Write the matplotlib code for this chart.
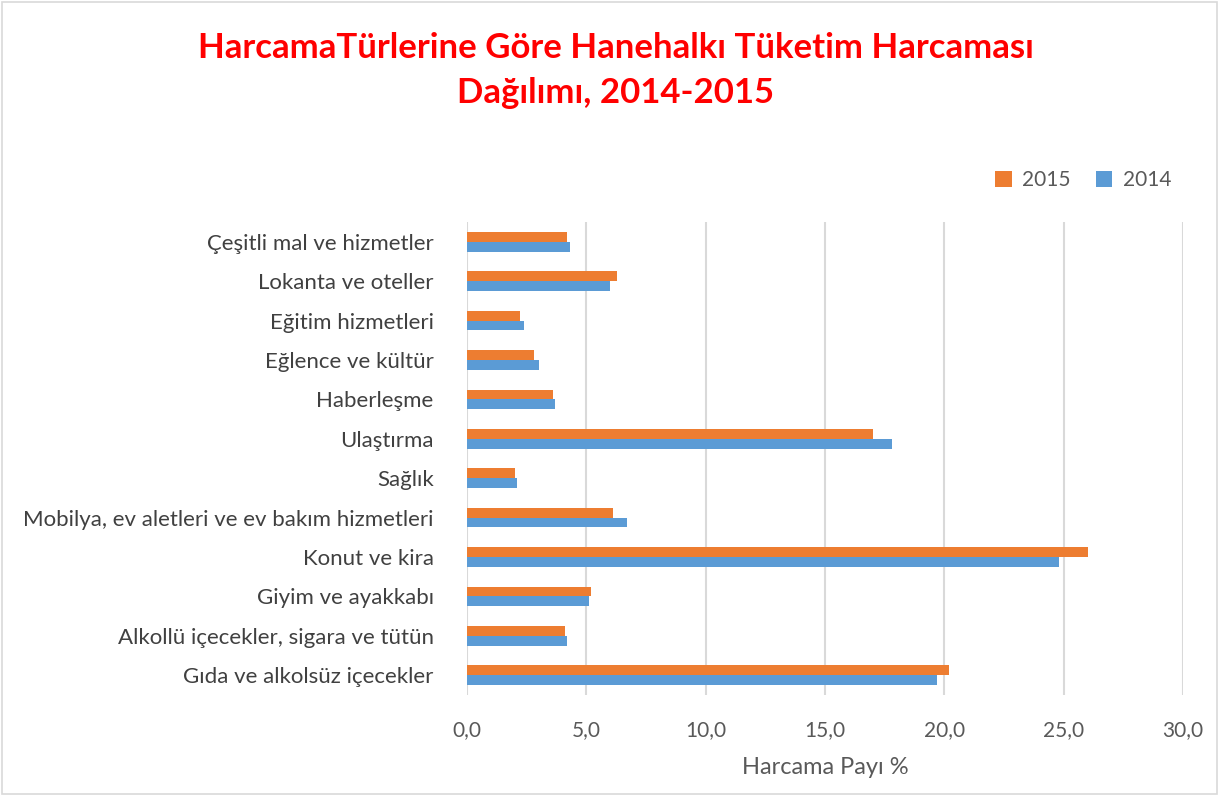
import numpy as np
import matplotlib.pyplot as plt
from matplotlib.patches import Rectangle

categories = [
    "Gıda ve alkolsüz içecekler",
    "Alkollü içecekler, sigara ve tütün",
    "Giyim ve ayakkabı",
    "Konut ve kira",
    "Mobilya, ev aletleri ve ev bakım hizmetleri",
    "Sağlık",
    "Ulaştırma",
    "Haberleşme",
    "Eğlence ve kültür",
    "Eğitim hizmetleri",
    "Lokanta ve oteller",
    "Çeşitli mal ve hizmetler",
]
values_2015 = [20.2, 4.1, 5.2, 26.0, 6.1, 2.0, 17.0, 3.6, 2.8, 2.2, 6.3, 4.2]
values_2014 = [19.7, 4.2, 5.1, 24.8, 6.7, 2.1, 17.8, 3.7, 3.0, 2.4, 6.0, 4.3]
xticks = [0, 5, 10, 15, 20, 25, 30]

plt.rcParams['font.family'] = ['Lato', 'DejaVu Sans']

fig = plt.figure(figsize=(12.19, 7.96), dpi=100)
ax = fig.add_axes([467 / 1219, 1 - 695 / 796, (1183 - 467) / 1219, (695 - 222) / 796])

y = np.arange(len(categories))
h = 0.25
ax.barh(y + h / 2, values_2015, height=h, color='#ED7D31', label='2015', zorder=3)
ax.barh(y - h / 2, values_2014, height=h, color='#5B9BD5', label='2014', zorder=3)

ax.set_xlim(0, 30)
ax.set_ylim(-0.5, len(categories) - 0.5)
ax.set_xticks(xticks)
ax.set_xticklabels([f"{v:.1f}".replace('.', ',') for v in xticks], fontsize=15, color='#595959')
ax.set_yticks(y)
ax.set_yticklabels(categories, fontsize=16, color='#404040')
ax.tick_params(axis='both', length=0)
ax.tick_params(axis='y', pad=24)
ax.tick_params(axis='x', pad=18)
ax.grid(axis='x', color='#D9D9D9', linewidth=1.5, zorder=0)
for s in ax.spines.values():
    s.set_visible(False)

ax.set_xlabel("Harcama Payı %", fontsize=17, color='#595959', labelpad=12)

fig.text(0.505, 0.96, "HarcamaTürlerine Göre Hanehalkı Tüketim Harcaması\nDağılımı, 2014-2015",
         ha='center', va='top', fontsize=25, fontweight='bold', color='#FF0000', linespacing=1.5)

leg = ax.legend(loc='lower right', bbox_to_anchor=(0.995, 1.05), ncol=2, frameon=False,
                fontsize=15, handlelength=0.8, handleheight=0.8, columnspacing=1.2,
                handletextpad=0.5, borderaxespad=0)
for t in leg.get_texts():
    t.set_color('#595959')

fig.patches.append(Rectangle((0.002, 0.002), 0.996, 0.996, transform=fig.transFigure,
                             fill=False, edgecolor='#D9D9D9', linewidth=1.2))

fig.savefig("out.png", dpi=100)
